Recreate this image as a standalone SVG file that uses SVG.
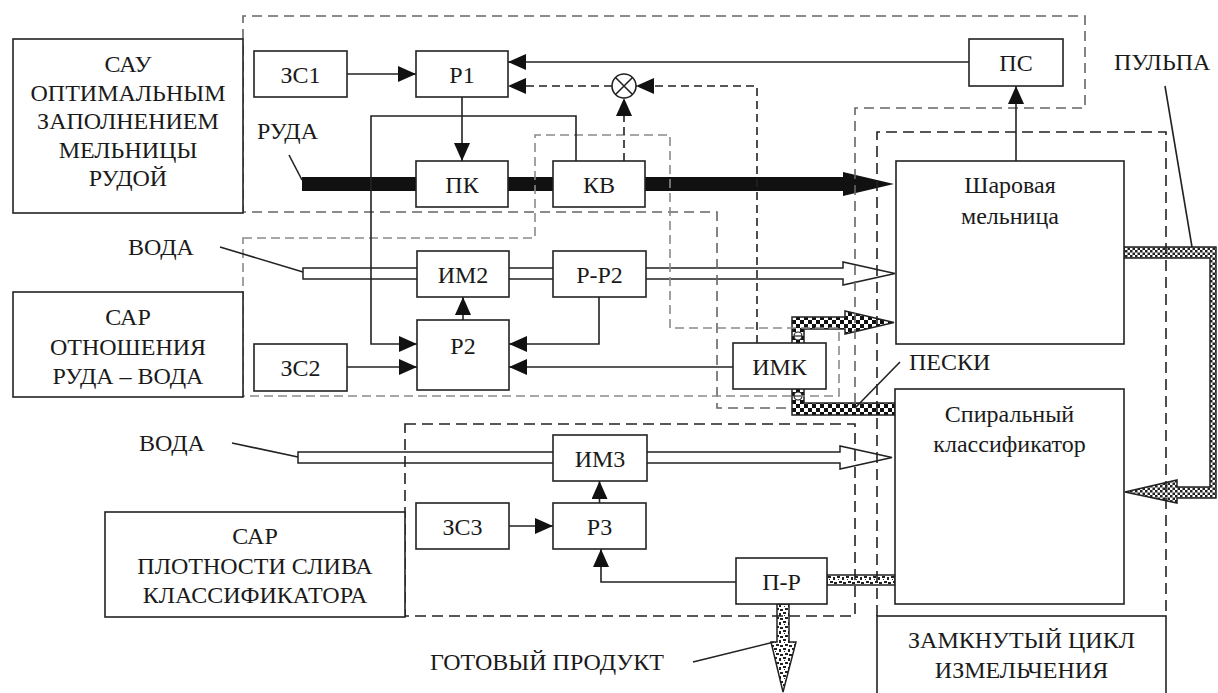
<svg xmlns="http://www.w3.org/2000/svg" width="1218" height="693" viewBox="0 0 1218 693" font-family="Liberation Serif, serif">
<style>
.box{fill:#fff;stroke:#222;stroke-width:1.6}
.t{font-family:"Liberation Serif",serif;font-size:24px;fill:#1a1a1a;text-anchor:middle}
.ts{font-family:"Liberation Serif",serif;font-size:24px;fill:#1a1a1a}
.ln{fill:none;stroke:#222;stroke-width:1.6}
.dl{fill:none;stroke:#222;stroke-width:1.6;stroke-dasharray:8 5}
.ob1{fill:none;stroke:#666;stroke-width:1.6;stroke-dasharray:10 6}
.ob2{fill:none;stroke:#8a8a8a;stroke-width:1.6;stroke-dasharray:9 5}
.ob3{fill:none;stroke:#222;stroke-width:1.6;stroke-dasharray:11 6}
.pipe{fill:#fff;stroke:#222;stroke-width:1.5}
</style>
<defs>
<marker id="ah" viewBox="0 0 18 16" refX="18" refY="8" markerWidth="18" markerHeight="16" markerUnits="userSpaceOnUse" orient="auto"><path d="M0,0 L18,8 L0,16 z" fill="#111"/></marker>
<pattern id="chkS" width="8" height="8" patternUnits="userSpaceOnUse"><rect width="8" height="8" fill="#fff"/><rect width="4" height="4" fill="#111"/><rect x="4" y="4" width="4" height="4" fill="#111"/></pattern>
<pattern id="chkP" width="5" height="5" patternUnits="userSpaceOnUse"><rect width="5" height="5" fill="#fff"/><rect width="2.5" height="2.5" fill="#222"/><rect x="2.5" y="2.5" width="2.5" height="2.5" fill="#222"/></pattern>
<pattern id="spk" width="9" height="9" patternUnits="userSpaceOnUse"><rect width="9" height="9" fill="#fff"/><rect x="0" y="0" width="3" height="2" fill="#222"/><rect x="5" y="1" width="2" height="3" fill="#222"/><rect x="2" y="5" width="3" height="2" fill="#222"/><rect x="6" y="6" width="3" height="2" fill="#222"/><rect x="1" y="3" width="1" height="1" fill="#222"/></pattern>
</defs>

<g id="flows">
<rect x="302" y="177" width="541" height="14" fill="#111"/>
<polygon points="843,172 894,184 843,196" fill="#111"/>
<polygon class="pipe" points="303,268 843,268 843,262 895,273.5 843,285 843,279 303,279"/>
<polygon class="pipe" points="298,452 840,452 840,446 892,457.5 840,469 840,463 298,463"/>
<path d="M1124,247 H1216 V498 H1177 V503 L1125,492 L1177,480 V487 H1210 V258 H1124 Z" fill="url(#chkP)" stroke="#222" stroke-width="1.5"/>
<path d="M895,403 H804 V329 H845 V334 L894,322.5 L845,311 V317 H792 V415 H895 Z" fill="url(#chkS)" stroke="#222" stroke-width="1.5"/>
<circle cx="798" cy="336" r="4" fill="#fff" stroke="#222" stroke-width="1.2"/>
<line x1="794" y1="336" x2="802" y2="336" stroke="#222" stroke-width="1.2"/>
<circle cx="798" cy="396" r="4" fill="#fff" stroke="#222" stroke-width="1.2"/>
<line x1="794" y1="396" x2="802" y2="396" stroke="#222" stroke-width="1.2"/>
<rect x="827" y="575" width="68" height="10" fill="url(#spk)" stroke="#222" stroke-width="1.5"/>
<path d="M777,604 V642 H771 L783,692 L796,642 H789 V604 Z" fill="url(#spk)" stroke="#222" stroke-width="1.5"/>
</g>

<g id="outlines">
<path class="ob1" d="M855,403 V108 H1085 V16 H243 V212 H717 V408 H792"/>
<path class="ob2" d="M243,238 H535 V135 H670 V328 H839 V396 H243 Z"/>
<rect class="ob3" x="405" y="424" width="450" height="192"/>
<path class="ob3" d="M877,616 V132 H1166 V616"/>
</g>

<g id="connectors">
<path class="ln" d="M347,74 H416" marker-end="url(#ah)"/>
<path class="ln" d="M462,97 V161" marker-end="url(#ah)"/>
<path class="ln" d="M969,62 H508" marker-end="url(#ah)"/>
<path class="dl" d="M612,86 H508" marker-end="url(#ah)"/>
<path class="dl" d="M757,343 V86 H636" marker-end="url(#ah)"/>
<path class="dl" d="M624,161 V98" marker-end="url(#ah)"/>
<path class="ln" d="M576,161 V116 H371 V344 H417" marker-end="url(#ah)"/>
<path class="ln" d="M1016,161 V86" marker-end="url(#ah)"/>
<path class="ln" d="M463,320 V297" marker-end="url(#ah)"/>
<path class="ln" d="M347,367 H417" marker-end="url(#ah)"/>
<path class="ln" d="M599,297 V344 H509" marker-end="url(#ah)"/>
<path class="ln" d="M733,367 H509" marker-end="url(#ah)"/>
<path class="ln" d="M599.5,503 V481" marker-end="url(#ah)"/>
<path class="ln" d="M509,526 H553" marker-end="url(#ah)"/>
<path class="ln" d="M736,582 H601 V549" marker-end="url(#ah)"/>
<path class="ln" d="M289,155 L302,180"/>
<path class="ln" d="M220,247 L303,272"/>
<path class="ln" d="M232,443 L298,457"/>
<path class="ln" d="M1165,86 L1192,247"/>
<path class="ln" d="M900,362 L855,408"/>
<path class="ln" d="M693,662 L774,642"/>
</g>

<g id="mult">
<circle cx="624" cy="86" r="12" fill="#fff" stroke="#222" stroke-width="1.6"/>
<path class="ln" d="M615.5,77.5 L632.5,94.5 M632.5,77.5 L615.5,94.5"/>
</g>

<g id="sau"><rect class="box" x="13" y="39" width="230" height="174"/>
<text class="t" x="128" y="72">САУ</text><text class="t" x="128" y="101">ОПТИМАЛЬНЫМ</text><text class="t" x="128" y="129">ЗАПОЛНЕНИЕМ</text><text class="t" x="128" y="158">МЕЛЬНИЦЫ</text><text class="t" x="128" y="186">РУДОЙ</text></g>
<g id="sar1"><rect class="box" x="13" y="292" width="230" height="105"/>
<text class="t" x="128" y="325">САР</text><text class="t" x="128" y="355">ОТНОШЕНИЯ</text><text class="t" x="128" y="384">РУДА – ВОДА</text></g>
<g id="sar3"><rect class="box" x="105" y="512" width="300" height="105"/>
<text class="t" x="255" y="544">САР</text><text class="t" x="255" y="574">ПЛОТНОСТИ СЛИВА</text><text class="t" x="255" y="603">КЛАССИФИКАТОРА</text></g>
<g id="cycle"><rect class="box" x="877" y="616" width="289" height="82"/>
<text class="t" x="1021.5" y="648">ЗАМКНУТЫЙ ЦИКЛ</text><text class="t" x="1021.5" y="678">ИЗМЕЛЬЧЕНИЯ</text></g>
<g id="zs1"><rect class="box" x="254" y="51" width="93" height="46"/><text class="t" x="300.5" y="83">ЗС1</text></g>
<g id="r1"><rect class="box" x="416" y="51" width="92" height="46"/><text class="t" x="462" y="83">Р1</text></g>
<g id="pk"><rect class="box" x="416" y="161" width="92" height="46"/><text class="t" x="462" y="193">ПК</text></g>
<g id="kv"><rect class="box" x="553" y="161" width="92" height="46"/><text class="t" x="599" y="193">КВ</text></g>
<g id="ps"><rect class="box" x="969" y="39" width="94" height="47"/><text class="t" x="1016" y="71">ПС</text></g>
<g id="im2"><rect class="box" x="417" y="251" width="92" height="46"/><text class="t" x="463" y="283">ИМ2</text></g>
<g id="rr2"><rect class="box" x="553" y="251" width="93" height="46"/><text class="t" x="599.5" y="283">Р-Р2</text></g>
<g id="r2"><rect class="box" x="417" y="320" width="92" height="70"/><text class="t" x="463" y="354">Р2</text></g>
<g id="zs2"><rect class="box" x="254" y="344" width="93" height="47"/><text class="t" x="300.5" y="376">ЗС2</text></g>
<g id="imk"><rect class="box" x="733" y="343" width="93" height="46"/><text class="t" x="779.5" y="375">ИМК</text></g>
<g id="im3"><rect class="box" x="553" y="435" width="94" height="46"/><text class="t" x="600" y="467">ИМ3</text></g>
<g id="zs3"><rect class="box" x="416" y="503" width="93" height="46"/><text class="t" x="462.5" y="535">ЗС3</text></g>
<g id="r3"><rect class="box" x="553" y="503" width="93" height="46"/><text class="t" x="599.5" y="535">Р3</text></g>
<g id="pr"><rect class="box" x="736" y="558" width="91" height="46"/><text class="t" x="781.5" y="590">П-Р</text></g>
<g id="mill"><rect class="box" x="896" y="161" width="228" height="183"/><text class="t" x="1010" y="193">Шаровая</text><text class="t" x="1010" y="224">мельница</text></g>
<g id="cls"><rect class="box" x="895" y="389" width="229" height="215"/><text class="t" x="1009.5" y="422">Спиральный</text><text class="t" x="1009.5" y="452">классификатор</text></g>

<g id="labels">
<text class="ts" x="257" y="139">РУДА</text>
<text class="ts" x="128" y="255">ВОДА</text>
<text class="ts" x="139" y="451">ВОДА</text>
<text class="ts" x="1114" y="70">ПУЛЬПА</text>
<text class="ts" x="909" y="370">ПЕСКИ</text>
<text class="ts" x="430" y="670">ГОТОВЫЙ ПРОДУКТ</text>
</g>
</svg>
